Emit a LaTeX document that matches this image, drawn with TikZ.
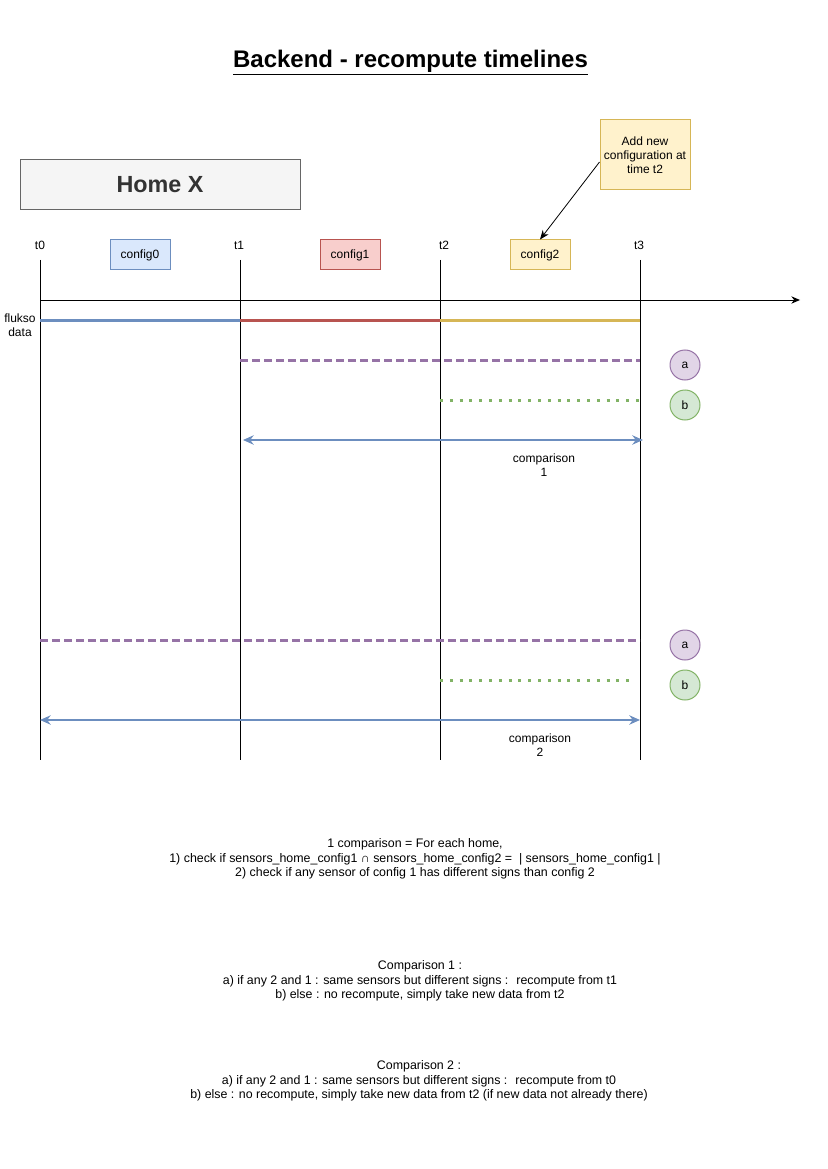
\documentclass[tikz,border=0pt]{standalone}
\usepackage{fontspec}
\setmainfont{Liberation Sans}
\usetikzlibrary{arrows.meta}
\definecolor{blueS}{HTML}{6C8EBF}
\definecolor{blueF}{HTML}{DAE8FC}
\definecolor{redS}{HTML}{B85450}
\definecolor{redF}{HTML}{F8CECC}
\definecolor{yelS}{HTML}{D6B656}
\definecolor{yelF}{HTML}{FFF2CC}
\definecolor{purS}{HTML}{9673A6}
\definecolor{purF}{HTML}{E1D5E7}
\definecolor{grnS}{HTML}{82B366}
\definecolor{grnF}{HTML}{D5E8D4}
\definecolor{greyS}{HTML}{666666}
\definecolor{greyF}{HTML}{F5F5F5}
\definecolor{darkT}{HTML}{333333}
\begin{document}
\begin{tikzpicture}[x=0.75pt,y=-0.75pt,
  font=\fontsize{9}{10.5}\selectfont,
  lbl/.style={inner sep=0pt, align=center},
  btxt/.style={inner sep=0pt, align=center, font=\fontsize{9.3}{10.7}\selectfont},
  cfgbox/.style={draw, minimum width=45pt, minimum height=22.5pt, inner sep=0pt, line width=0.75pt},
  homebox/.style={draw=greyS, fill=greyF, minimum width=210pt, minimum height=37.5pt, inner sep=0pt, line width=0.75pt, text=darkT, font=\bfseries\fontsize{17.5}{20}\selectfont},
  notebox/.style={draw=yelS, fill=yelF, minimum width=67.5pt, minimum height=52.5pt, inner sep=0pt, line width=0.75pt, align=center},
  circ/.style={circle, draw, minimum size=22.5pt, inner sep=0pt, line width=0.75pt},
  vline/.style={line width=0.75pt, black},
  dataline/.style={line width=2.25pt},
  adash/.style={line width=2.25pt, purS, dash pattern=on 6pt off 3pt},
  bdot/.style={line width=2.25pt, grnS, dash pattern=on 2.25pt off 5.1pt},
  cmparrow/.style={line width=1.5pt, blueS, {Stealth[length=8pt,width=7pt]}-{Stealth[length=8pt,width=7pt]}},
  axisarrow/.style={line width=0.75pt, -{Stealth[length=6.5pt,width=5.5pt]}},
  notearrow/.style={line width=0.6pt, -{Stealth[length=7pt,width=5.5pt]}}
]
\useasboundingbox (0,0) rectangle (827,1169);

% title
\node[lbl, font=\bfseries\fontsize{18}{21}\selectfont] (title) at (410.5,63) {\underline{Backend - recompute timelines}};

% home box
\node[homebox] (home) at (160,185) {Home X};

% note
\node[notebox] (note) at (645,155) {Add new\\configuration at\\time t2};

% configs
\node[cfgbox, draw=blueS, fill=blueF] (cfg0) at (140,255) {config0};
\node[cfgbox, draw=redS, fill=redF] (cfg1) at (350,255) {config1};
\node[cfgbox, draw=yelS, fill=yelF] (cfg2) at (540,255) {config2};

\draw[notearrow] ([yshift=-5.25pt]note.west) -- (cfg2.north);

% time labels
\node[lbl] (lt0) at (40,245) {t0};
\node[lbl] (lt1) at (239,245) {t1};
\node[lbl] (lt2) at (444,245) {t2};
\node[lbl] (lt3) at (639,245) {t3};

% vertical lines
\coordinate (t0a) at (40,260);  \coordinate (t0b) at (40,760);
\coordinate (t1a) at (240,260); \coordinate (t1b) at (240,760);
\coordinate (t2a) at (440,260); \coordinate (t2b) at (440,760);
\coordinate (t3a) at (640,260); \coordinate (t3b) at (640,760);
\draw[vline] (t0a) -- (t0b);
\draw[vline] (t1a) -- (t1b);
\draw[vline] (t2a) -- (t2b);
\draw[vline] (t3a) -- (t3b);

% axis
\coordinate (axs) at (40,300);
\coordinate (axe) at (800,300);
\draw[axisarrow] (axs) -- (axe);

% flukso data
\node[lbl] (flukso) at (20,325) {flukso\\data};
\coordinate (d0) at (40,320);
\coordinate (d1) at (240,320);
\coordinate (d2) at (440,320);
\coordinate (d3) at (640,320);
\draw[dataline, blueS] (d0) -- (d1);
\draw[dataline, redS] (d1) -- (d2);
\draw[dataline, yelS] (d2) -- (d3);

% comparison 1
\coordinate (a1s) at (240,360); \coordinate (a1e) at (640,360);
\draw[adash] (a1s) -- (a1e);
\coordinate (b1s) at (440,400); \coordinate (b1e) at (640,400);
\draw[bdot] (b1s) -- (b1e);
\node[circ, draw=purS, fill=purF] (ca1) at (685,365) {a};
\node[circ, draw=grnS, fill=grnF] (cb1) at (685,405) {b};
\coordinate (c1s) at (243,440); \coordinate (c1e) at (643,440);
\draw[cmparrow] (c1s) -- (c1e);
\node[lbl] (lc1) at (544,465) {comparison\\1};

% comparison 2
\coordinate (a2s) at (40,640); \coordinate (a2e) at (640,640);
\draw[adash] (a2s) -- (a2e);
\coordinate (b2s) at (440,680); \coordinate (b2e) at (635,680);
\draw[bdot] (b2s) -- (b2e);
\node[circ, draw=purS, fill=purF] (ca2) at (685,645) {a};
\node[circ, draw=grnS, fill=grnF] (cb2) at (685,685) {b};
\coordinate (c2s) at (40,720); \coordinate (c2e) at (640,720);
\draw[cmparrow] (c2s) -- (c2e);
\node[lbl] (lc2) at (540,745) {comparison\\2};

% text blocks
\node[btxt] (txt1) at (415,859) {1 comparison = For each home,\\1) check if sensors\_home\_config1 ∩ sensors\_home\_config2 = \ | sensors\_home\_config1 |\\2) check if any sensor of config 1 has different signs than config 2};
\node[btxt] (txt2) at (420,981) {Comparison 1 :\\a) if any 2 and 1 : same sensors but different signs : \ recompute from t1\\b) else : no recompute, simply take new data from t2};
\node[btxt] (txt3) at (419,1081) {Comparison 2 :\\a) if any 2 and 1 : same sensors but different signs : \ recompute from t0\\b) else : no recompute, simply take new data from t2 (if new data not already there)};
\end{tikzpicture}
\end{document}
